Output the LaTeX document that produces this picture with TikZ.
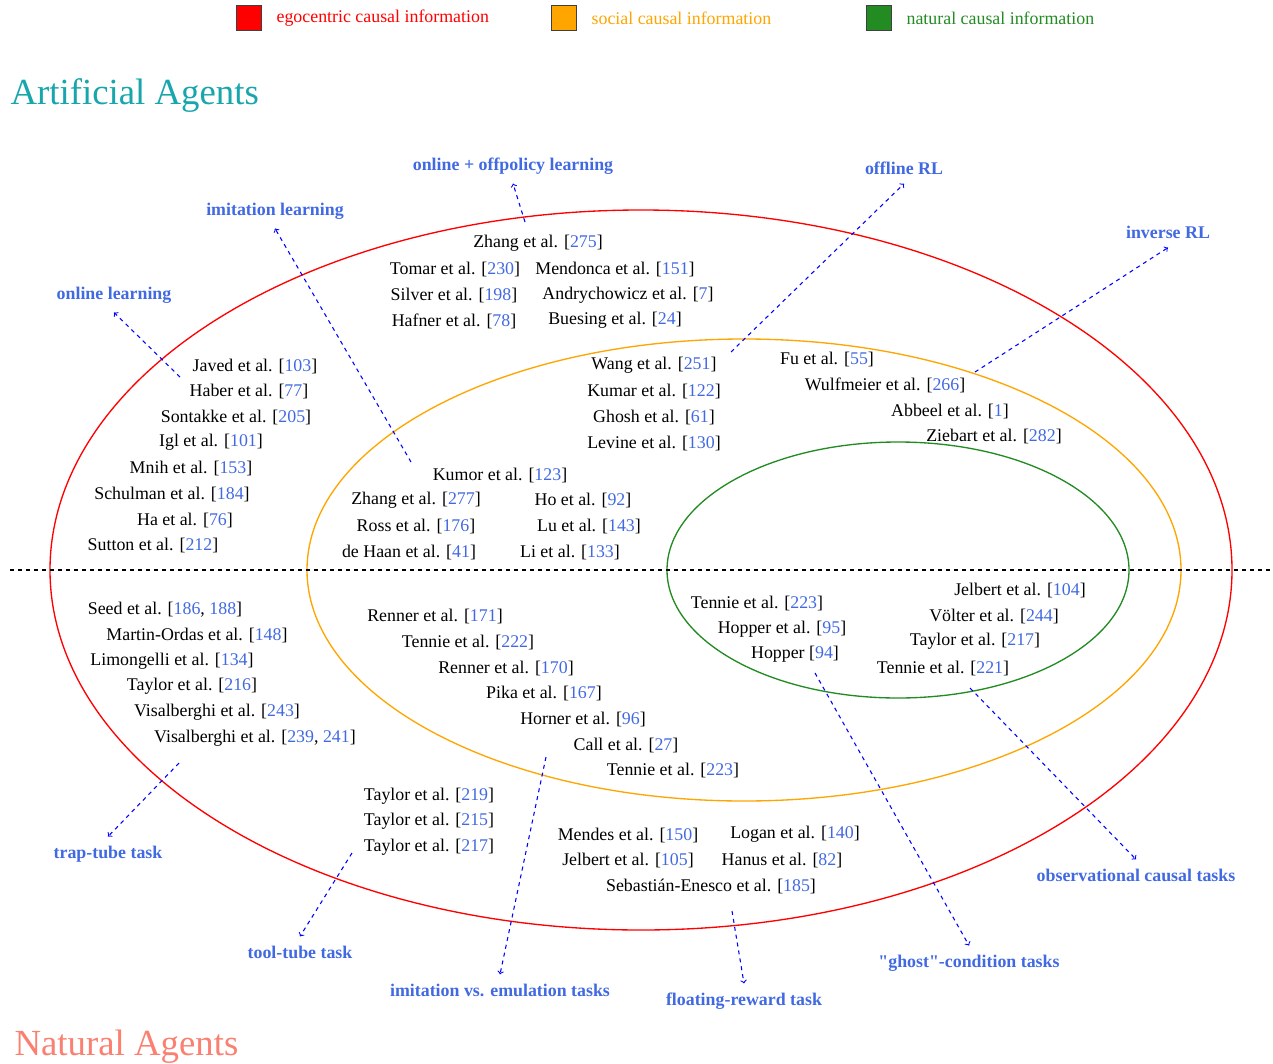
\documentclass[tikz,border=0pt]{standalone}
\usepackage{fontspec}
\setmainfont{Liberation Serif}
\usetikzlibrary{positioning}

\definecolor{citeblue}{RGB}{65,105,225}
\definecolor{taskblue}{RGB}{65,105,225}
\definecolor{socialorange}{RGB}{255,165,0}
\definecolor{naturalgreen}{RGB}{34,139,34}
\definecolor{agentteal}{RGB}{23,166,172}
\definecolor{agentsalmon}{RGB}{250,128,114}
\newcommand{\cit}[1]{[\textcolor{citeblue}{#1}]}

\tikzset{every picture/.style={line width=0.75pt}}
\tikzset{
	paper/.style={font=\fontsize{13.4}{16}\selectfont, inner sep=1pt, yshift=-1.5pt},
	task/.style={font=\fontsize{13.4}{16}\selectfont\bfseries, text=taskblue, inner sep=2pt, outer sep=5pt, yshift=-1.5pt},
	pointer/.style={draw=blue, dashed, line width=0.8pt, ->},
	legbox/.style={draw=black!75, line width=1pt, minimum size=19pt, inner sep=0pt},
	legtext/.style={font=\fontsize{13.4}{16}\selectfont, right=7pt of #1},
	agents/.style={font=\fontsize{27.6}{32}\selectfont, anchor=west, inner sep=0pt, yshift=-3pt},
}

\begin{document}
\begin{tikzpicture}[x=0.75pt,y=0.75pt,yscale=-1,xscale=1]
	\useasboundingbox (0,0) rectangle (1273,1063);

	%Legend
	\node [legbox, fill=red] (legego) at (249,18) {};
	\node [legtext=legego, text=red] (legegotxt) {egocentric causal information};
	\node [legbox, fill=socialorange] (legsoc) at (564,18) {};
	\node [legtext=legsoc, text=socialorange] (legsoctxt) {social causal information};
	\node [legbox, fill=naturalgreen] (legnat) at (879,18) {};
	\node [legtext=legnat, text=naturalgreen] (legnattxt) {natural causal information};

	% Text Node
	\node [agents, text=agentteal] (artificial) at (10,92) {Artificial Agents};
	% Text Node
	\node [agents, text=agentsalmon] (natural) at (14,1043) {Natural Agents};

	%Shape: Ellipse
	\draw [red, line width=1pt] (641,570) ellipse [x radius=591, y radius=360];
	%Shape: Ellipse
	\draw [socialorange, line width=1pt] (744,570) ellipse [x radius=437, y radius=231];
	%Shape: Ellipse
	\draw [naturalgreen, line width=1pt] (898,570) ellipse [x radius=231, y radius=128];
	%Straight Lines
	\draw [dashed, line width=0.9pt] (10,570) -- (1273,570);

	%Task labels
	\node [task] (onoff) at (513,164) {online + offpolicy learning};
	\node [task] (imitlearn) at (275,209) {imitation learning};
	\node [task] (offrl) at (904,166) {offline RL};
	\node [task] (invrl) at (1168,230) {inverse RL};
	\node [task] (onlearn) at (114,293) {online learning};
	\node [task] (traptube) at (108,852) {trap-tube task};
	\node [task] (tooltube) at (300,950) {tool-tube task};
	\node [task] (imitemul) at (500,988) {imitation vs. emulation tasks};
	\node [task] (floatrew) at (744,999) {floating-reward task};
	\node [task] (ghost) at (969,961) {\textquotedbl ghost\textquotedbl-condition tasks};
	\node [task] (obscausal) at (1136,873) {observational causal tasks};

	%Pointer feet
	\coordinate (onofffoot) at (525,222);
	\coordinate (imitlearnfoot) at (411,462);
	\coordinate (offrlfoot) at (731,352);
	\coordinate (invrlfoot) at (975,372);
	\coordinate (onlearnfoot) at (180,377);
	\coordinate (traptubefoot) at (179,763);
	\coordinate (tooltubefoot) at (352,853);
	\coordinate (imitemulfoot) at (546,757);
	\coordinate (floatrewfoot) at (732,911);
	\coordinate (ghostfoot) at (815,673);
	\coordinate (obscausalfoot) at (970,688);

	\draw [pointer] (onofffoot) -- (onoff.south);
	\draw [pointer] (imitlearnfoot) -- (imitlearn.south);
	\draw [pointer] (offrlfoot) -- (offrl.south);
	\draw [pointer] (invrlfoot) -- (invrl.south);
	\draw [pointer] (onlearnfoot) -- (onlearn.south);
	\draw [pointer] (traptubefoot) -- (traptube.north);
	\draw [pointer] (tooltubefoot) -- (tooltube.north);
	\draw [pointer] (imitemulfoot) -- (imitemul.north);
	\draw [pointer] (floatrewfoot) -- (floatrew.north);
	\draw [pointer] (ghostfoot) -- (ghost.north);
	\draw [pointer] (obscausalfoot) -- (obscausal.north);

	% Text Node: egocentric, artificial
	\node [paper] (zhangA) at (538,241) {Zhang et al. \cit{275}};
	\node [paper] (tomar) at (455,267) {Tomar et al. \cit{230}};
	\node [paper] (mendonca) at (615,267) {Mendonca et al. \cit{151}};
	\node [paper] (silver) at (454,293) {Silver et al. \cit{198}};
	\node [paper] (andry) at (628,293) {Andrychowicz et al. \cit{7}};
	\node [paper] (hafner) at (454,319) {Hafner et al. \cit{78}};
	\node [paper] (buesing) at (615,318) {Buesing et al. \cit{24}};
	\node [paper] (javed) at (255,364) {Javed et al. \cit{103}};
	\node [paper] (haber) at (249,389) {Haber et al. \cit{77}};
	\node [paper] (sontakke) at (236,415) {Sontakke et al. \cit{205}};
	\node [paper] (igl) at (211,440) {Igl et al. \cit{101}};
	\node [paper] (mnih) at (191,466) {Mnih et al. \cit{153}};
	\node [paper] (schulman) at (172,492) {Schulman et al. \cit{184}};
	\node [paper] (ha) at (185,518) {Ha et al. \cit{76}};
	\node [paper] (sutton) at (153,543) {Sutton et al. \cit{212}};

	% Text Node: social, artificial
	\node [paper] (wang) at (654,363) {Wang et al. \cit{251}};
	\node [paper] (kumar) at (654,389) {Kumar et al. \cit{122}};
	\node [paper] (ghosh) at (654,415) {Ghosh et al. \cit{61}};
	\node [paper] (levine) at (654,441) {Levine et al. \cit{130}};
	\node [paper] (fu) at (827,357) {Fu et al. \cit{55}};
	\node [paper] (wulfmeier) at (885,383) {Wulfmeier et al. \cit{266}};
	\node [paper] (abbeel) at (950,409) {Abbeel et al. \cit{1}};
	\node [paper] (ziebart) at (994,434) {Ziebart et al. \cit{282}};
	\node [paper] (kumor) at (500,473) {Kumor et al. \cit{123}};
	\node [paper] (zhangB) at (416,498) {Zhang et al. \cit{277}};
	\node [paper] (ho) at (583,498) {Ho et al. \cit{92}};
	\node [paper] (ross) at (416,524) {Ross et al. \cit{176}};
	\node [paper] (lu) at (589,524) {Lu et al. \cit{143}};
	\node [paper] (dehaan) at (409,550) {de Haan et al. \cit{41}};
	\node [paper] (li) at (570,550) {Li et al. \cit{133}};

	% Text Node: natural, natural agents
	\node [paper] (tennieA) at (757,601) {Tennie et al. \cit{223}};
	\node [paper] (hopperA) at (782,627) {Hopper et al. \cit{95}};
	\node [paper] (hopperB) at (795,652) {Hopper \cit{94}};
	\node [paper] (jelbertA) at (1020,588) {Jelbert et al. \cit{104}};
	\node [paper] (volter) at (994,614) {Völter et al. \cit{244}};
	\node [paper] (taylorA) at (975,639) {Taylor et al. \cit{217}};
	\node [paper] (tennieB) at (943,666) {Tennie et al. \cit{221}};

	% Text Node: egocentric, natural agents
	\node [paper] (seed) at (165,608) {Seed et al. [\textcolor{citeblue}{186}, \textcolor{citeblue}{188}]};
	\node [paper] (martin) at (197,633) {Martin-Ordas et al. \cit{148}};
	\node [paper] (limongelli) at (172,659) {Limongelli et al. \cit{134}};
	\node [paper] (taylorB) at (192,684) {Taylor et al. \cit{216}};
	\node [paper] (visalA) at (217,710) {Visalberghi et al. \cit{243}};
	\node [paper] (visalB) at (255,736) {Visalberghi et al. [\textcolor{citeblue}{239}, \textcolor{citeblue}{241}]};
	\node [paper] (taylorC) at (429,794) {Taylor et al. \cit{219}};
	\node [paper] (taylorD) at (429,819) {Taylor et al. \cit{215}};
	\node [paper] (taylorE) at (429,845) {Taylor et al. \cit{217}};
	\node [paper] (mendes) at (628,833) {Mendes et al. \cit{150}};
	\node [paper] (logan) at (795,832) {Logan et al. \cit{140}};
	\node [paper] (jelbertB) at (628,858) {Jelbert et al. \cit{105}};
	\node [paper] (hanus) at (782,858) {Hanus et al. \cit{82}};
	\node [paper] (sebastian) at (711,884) {Sebastián-Enesco et al. \cit{185}};

	% Text Node: social, natural agents
	\node [paper] (rennerA) at (435,614) {Renner et al. \cit{171}};
	\node [paper] (tennieC) at (468,640) {Tennie et al. \cit{222}};
	\node [paper] (rennerB) at (506,666) {Renner et al. \cit{170}};
	\node [paper] (pika) at (544,691) {Pika et al. \cit{167}};
	\node [paper] (horner) at (583,717) {Horner et al. \cit{96}};
	\node [paper] (call) at (626,743) {Call et al. \cit{27}};
	\node [paper] (tennieD) at (673,768) {Tennie et al. \cit{223}};

\end{tikzpicture}
\end{document}
